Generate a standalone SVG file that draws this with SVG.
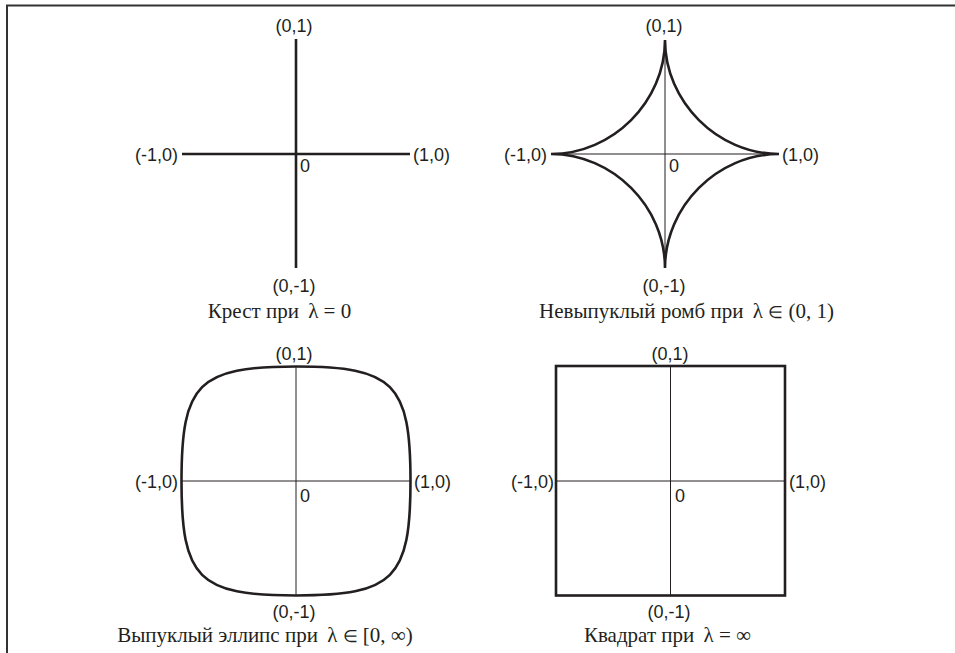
<svg xmlns="http://www.w3.org/2000/svg" width="955" height="653" viewBox="0 0 955 653">
<style>
.bg{fill:#ffffff}
.frame{fill:none;stroke:#333333;stroke-width:2}
.thick{fill:none;stroke:#231f20;stroke-width:2.6;stroke-linejoin:miter}
.axis{fill:none;stroke:#231f20;stroke-width:1}
.lbl{font-family:"Liberation Sans",Arial,sans-serif;font-size:18px;fill:#231f20}
.cap{font-family:"Liberation Serif","Times New Roman",serif;font-size:21px;fill:#231f20}
.sym{font-size:17px}
.mid{text-anchor:middle}
.end{text-anchor:end}
</style>
<rect class="bg" x="0" y="0" width="955" height="653"/>
<path class="frame" d="M7,653 V5.5 H955"/>

<g id="cross">
  <line class="thick" x1="182" y1="154" x2="410" y2="154"/>
  <line class="thick" x1="296" y1="39" x2="296" y2="268"/>
  <text class="lbl mid" x="294" y="32">(0,1)</text>
  <text class="lbl end" x="178" y="161">(-1,0)</text>
  <text class="lbl" x="413" y="161">(1,0)</text>
  <text class="lbl" x="300" y="171.5">0</text>
  <text class="lbl mid" x="294" y="292">(0,-1)</text>
  <text class="cap mid" x="279.5" y="318">Крест при <tspan dx="4">λ = 0</tspan></text>
</g>

<g id="astroid">
  <line class="axis" x1="551" y1="154" x2="779" y2="154"/>
  <line class="axis" x1="665" y1="40" x2="665" y2="268"/>
  <path class="thick" d="M665,40 C665,101.6 717.4,154 779,154 C717.4,154 665,206.4 665,268 C665,206.4 612.6,154 551,154 C612.6,154 665,101.6 665,40 Z"/>
  <text class="lbl mid" x="664" y="32">(0,1)</text>
  <text class="lbl end" x="547" y="161">(-1,0)</text>
  <text class="lbl" x="782" y="161">(1,0)</text>
  <text class="lbl" x="669" y="171.5">0</text>
  <text class="lbl mid" x="664" y="292">(0,-1)</text>
  <text class="cap mid" x="686.5" y="318">Невыпуклый ромб при <tspan dx="4">λ <tspan class="sym">∈</tspan> (0, 1)</tspan></text>
</g>

<g id="superellipse">
  <line class="axis" x1="181.5" y1="481" x2="410.5" y2="481"/>
  <line class="axis" x1="296" y1="366.5" x2="296" y2="595.5"/>
  <path class="thick" d="M296,366.5 C393.7,366.5 410.5,383.3 410.5,481 C410.5,578.7 393.7,595.5 296,595.5 C198.3,595.5 181.5,578.7 181.5,481 C181.5,383.3 198.3,366.5 296,366.5 Z"/>
  <text class="lbl mid" x="294" y="360">(0,1)</text>
  <text class="lbl end" x="178" y="488">(-1,0)</text>
  <text class="lbl" x="414" y="488">(1,0)</text>
  <text class="lbl" x="300" y="501.7">0</text>
  <text class="lbl mid" x="294" y="618">(0,-1)</text>
  <text class="cap mid" x="265" y="642">Выпуклый эллипс при <tspan dx="4">λ <tspan class="sym">∈</tspan> [0, ∞)</tspan></text>
</g>

<g id="square">
  <line class="axis" x1="556" y1="481" x2="785" y2="481"/>
  <line class="axis" x1="670.5" y1="366" x2="670.5" y2="595.5"/>
  <rect class="thick" x="556" y="366" width="229" height="229.5"/>
  <text class="lbl mid" x="670" y="360">(0,1)</text>
  <text class="lbl end" x="554" y="488">(-1,0)</text>
  <text class="lbl" x="789" y="488">(1,0)</text>
  <text class="lbl" x="675" y="501.7">0</text>
  <text class="lbl mid" x="669" y="618">(0,-1)</text>
  <text class="cap mid" x="667.5" y="642">Квадрат при <tspan dx="4">λ = ∞</tspan></text>
</g>
</svg>
